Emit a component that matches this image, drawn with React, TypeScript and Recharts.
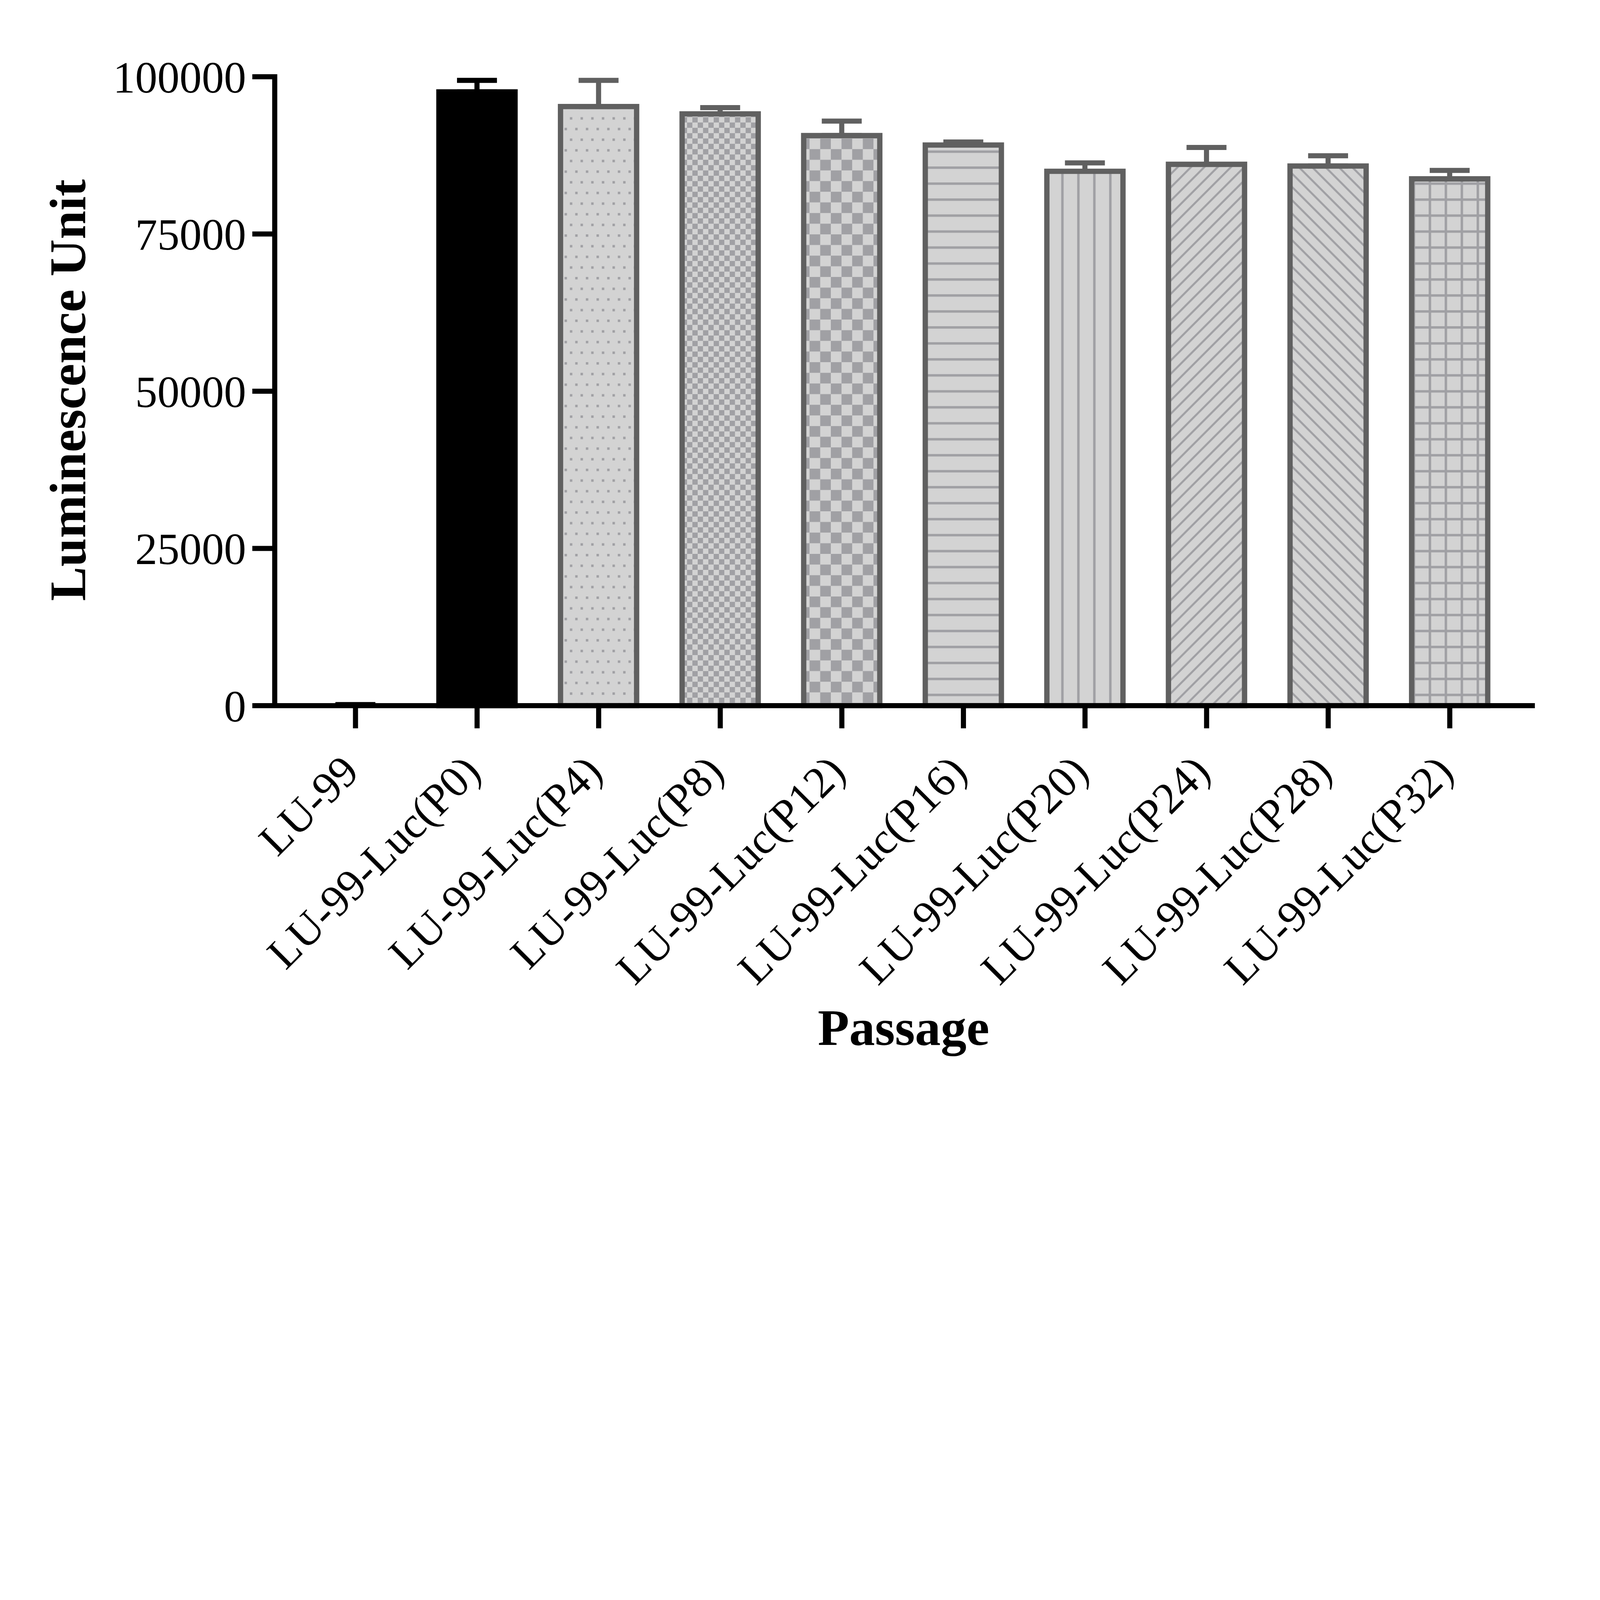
import React from 'react'
import { BarChart, Bar, XAxis, YAxis, ErrorBar, Cell, Label } from 'recharts'

const FONT = "'Times New Roman', 'Liberation Serif', serif"
const W = 7210
const H = 4928

// passage groups
const categories = [
  'LU-99',
  'LU-99-Luc(P0)',
  'LU-99-Luc(P4)',
  'LU-99-Luc(P8)',
  'LU-99-Luc(P12)',
  'LU-99-Luc(P16)',
  'LU-99-Luc(P20)',
  'LU-99-Luc(P24)',
  'LU-99-Luc(P28)',
  'LU-99-Luc(P32)',
]

// mean luminescence and SD (upper whisker only)
const means = [50, 97600, 95270, 94100, 90650, 89150, 84970, 86080, 85810, 83770]
const sds = [130, 1830, 4160, 1000, 2300, 480, 1340, 2680, 1630, 1340]

const yTicks = [0, 25000, 50000, 75000, 100000]

const GRAY_EDGE = '#606060'
const LIGHT = '#d3d3d3'
const HATCH = '#a0a0a4'

const fills = [
  '#000',
  '#000',
  'url(#dots)',
  'url(#checkSmall)',
  'url(#checkLarge)',
  'url(#hLines)',
  'url(#vLines)',
  'url(#diagUp)',
  'url(#diagDown)',
  'url(#grid)',
]

const data = categories.map((name, i) => ({
  name,
  mean: means[i],
  errBlack: i < 2 ? [0, sds[i]] : null,
  errGray: i >= 2 ? [0, sds[i]] : null,
}))

function AngledTick({ x, y, payload }: any) {
  const ax = x + 25
  const ay = y + 204
  return (
    <text
      x={ax}
      y={ay}
      transform={`rotate(-45 ${ax} ${ay})`}
      textAnchor="end"
      fontSize={200}
      fontFamily={FONT}
      fill="#000"
    >
      {payload.value}
    </text>
  )
}

export default function App() {
  // the page may be narrower than the chart; shrink it to fit so nothing is clipped
  const scale =
    typeof window !== 'undefined'
      ? Math.min(1, window.innerWidth / W, window.innerHeight / H)
      : 1
  return (
    <div style={{ width: W * scale, height: H * scale, overflow: 'hidden', background: '#fff' }}>
      <style>{'body{margin:0;background:#fff}'}</style>
      <div style={{ width: W, height: H, transform: `scale(${scale})`, transformOrigin: '0 0' }}>
        <BarChart
          width={W}
          height={H}
          data={data}
          margin={{ top: 346, right: 305, bottom: 0, left: 0 }}
          barCategoryGap={0}
        >
          <defs>
            <pattern id="dots" patternUnits="userSpaceOnUse" width={48} height={96}>
              <rect width={48} height={96} fill={LIGHT} />
              <rect x={0} y={0} width={11} height={11} fill={HATCH} />
              <rect x={24} y={48} width={11} height={11} fill={HATCH} />
            </pattern>
            <pattern id="checkSmall" patternUnits="userSpaceOnUse" width={48} height={48}>
              <rect width={48} height={48} fill={LIGHT} />
              <rect x={0} y={0} width={24} height={24} fill={HATCH} />
              <rect x={24} y={24} width={24} height={24} fill={HATCH} />
            </pattern>
            <pattern id="checkLarge" patternUnits="userSpaceOnUse" width={96} height={96}>
              <rect width={96} height={96} fill={LIGHT} />
              <rect x={0} y={0} width={48} height={48} fill={HATCH} />
              <rect x={48} y={48} width={48} height={48} fill={HATCH} />
            </pattern>
            <pattern id="hLines" patternUnits="userSpaceOnUse" width={72} height={72}>
              <rect width={72} height={72} fill={LIGHT} />
              <rect x={0} y={30} width={72} height={11} fill={HATCH} />
            </pattern>
            <pattern id="vLines" patternUnits="userSpaceOnUse" width={72} height={72}>
              <rect width={72} height={72} fill={LIGHT} />
              <rect x={30} y={0} width={11} height={72} fill={HATCH} />
            </pattern>
            <pattern id="diagUp" patternUnits="userSpaceOnUse" width={60} height={60}>
              <rect width={60} height={60} fill={LIGHT} />
              <path d="M0,60 L60,0 M-15,15 L15,-15 M45,75 L75,45" stroke={HATCH} strokeWidth={9} />
            </pattern>
            <pattern id="diagDown" patternUnits="userSpaceOnUse" width={60} height={60}>
              <rect width={60} height={60} fill={LIGHT} />
              <path d="M0,0 L60,60 M-15,45 L15,75 M45,-15 L75,15" stroke={HATCH} strokeWidth={9} />
            </pattern>
            <pattern id="grid" patternUnits="userSpaceOnUse" width={72} height={72}>
              <rect width={72} height={72} fill={LIGHT} />
              <rect x={30} y={0} width={11} height={72} fill={HATCH} />
              <rect x={0} y={30} width={72} height={11} fill={HATCH} />
            </pattern>
          </defs>

          <Bar dataKey="mean" barSize={343} strokeWidth={24} isAnimationActive={false}>
            {data.map((d, i) => (
              <Cell
                key={d.name}
                fill={fills[i]}
                stroke={i === 0 ? 'none' : i === 1 ? '#000' : GRAY_EDGE}
              />
            ))}
            <ErrorBar
              dataKey="errBlack"
              direction="y"
              width={90}
              stroke="#000"
              strokeWidth={23}
              isAnimationActive={false}
            />
            <ErrorBar
              dataKey="errGray"
              direction="y"
              width={90}
              stroke={GRAY_EDGE}
              strokeWidth={23}
              isAnimationActive={false}
            />
          </Bar>

          <XAxis
            dataKey="name"
            type="category"
            interval={0}
            height={1748}
            padding={{ left: 90, right: 98 }}
            axisLine={{ stroke: '#000', strokeWidth: 23, strokeLinecap: 'square' }}
            tickLine={{ stroke: '#000', strokeWidth: 23 }}
            tickSize={102}
            tick={<AngledTick />}
          >
            <Label
              content={({ viewBox }: any) => (
                <text
                  x={viewBox.x + viewBox.width / 2}
                  y={4709}
                  textAnchor="middle"
                  fontSize={232}
                  fontWeight="bold"
                  fontFamily={FONT}
                  fill="#000"
                >
                  Passage
                </text>
              )}
            />
          </XAxis>
          <YAxis
            width={1238}
            domain={[0, 100000]}
            ticks={yTicks}
            interval={0}
            tickFormatter={(v: number) => String(v)}
            axisLine={{ stroke: '#000', strokeWidth: 23, strokeLinecap: 'square' }}
            tickLine={{ stroke: '#000', strokeWidth: 23 }}
            tickSize={101}
            tickMargin={28}
            tick={{ fontSize: 200, fill: '#000', fontFamily: FONT }}
          >
            <Label
              content={({ viewBox }: any) => {
                const cx = 383
                const cy = viewBox.y + viewBox.height / 2 - 5
                return (
                  <text
                    x={cx}
                    y={cy}
                    transform={`rotate(-90 ${cx} ${cy})`}
                    textAnchor="middle"
                    fontSize={232}
                    fontWeight="bold"
                    fontFamily={FONT}
                    fill="#000"
                  >
                    Luminescence Unit
                  </text>
                )
              }}
            />
          </YAxis>
        </BarChart>
      </div>
    </div>
  )
}
